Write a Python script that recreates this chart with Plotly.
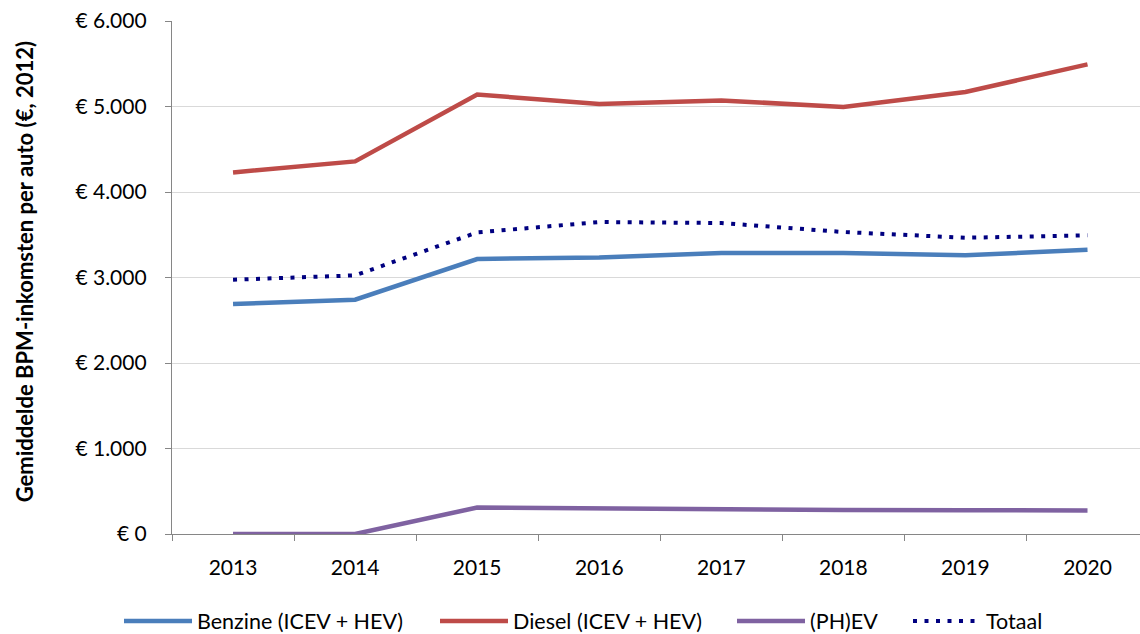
import plotly.graph_objects as go

# Average BPM revenue per car (€, 2012 prices) by fuel type
years = ["2013", "2014", "2015", "2016", "2017", "2018", "2019", "2020"]
benzine = [2690, 2740, 3216, 3235, 3286, 3286, 3259, 3325]
diesel = [4229, 4358, 5140, 5030, 5071, 4994, 5170, 5493]
phev = [0, 0, 310, 296, 285, 280, 278, 276]
totaal = [2974, 3025, 3527, 3649, 3637, 3532, 3465, 3493]

y_ticks = [0, 1000, 2000, 3000, 4000, 5000, 6000]
y_tick_labels = ["€ 0", "€ 1.000", "€ 2.000", "€ 3.000", "€ 4.000", "€ 5.000", "€ 6.000"]

FONT = "Lato, Carlito, 'Open Sans', sans-serif"
W, H = 1140, 634

series = [
    ("Benzine (ICEV + HEV)", benzine, dict(color="#4A7EBB", width=4.5), "legend", 119),
    ("Diesel (ICEV + HEV)", diesel, dict(color="#BE4B48", width=4.5), "legend2", 435),
    ("(PH)EV", phev, dict(color="#7F62A1", width=4.5), "legend3", 732),
    ("Totaal", totaal, dict(color="#000080", width=4, dash="4px,7.5px"), "legend4", 908),
]

fig = go.Figure()
legend_layout = {}
for name, values, line, legend_id, left_px in series:
    fig.add_trace(go.Scatter(x=years, y=values, name=name, mode="lines",
                             line=line, legend=legend_id))
    legend_layout[legend_id] = dict(
        orientation="h", xref="container", yref="container",
        x=left_px / W, xanchor="left", y=1 - 621 / H, yanchor="middle",
        itemwidth=68, font=dict(size=21.5, family=FONT, color="black"),
        bgcolor="rgba(0,0,0,0)",
    )

fig.update_layout(
    width=W, height=H,
    margin=dict(l=172, r=0, t=21, b=100),
    paper_bgcolor="white", plot_bgcolor="white",
    font=dict(family=FONT, size=21, color="black"),
    showlegend=True,
    annotations=[dict(text="<b>Gemiddelde BPM-inkomsten per auto (€, 2012)</b>",
                      xref="paper", yref="paper", x=(24 - 172) / 968, y=0.51,
                      textangle=-90, showarrow=False, xanchor="center", yanchor="middle",
                      font=dict(size=22, color="black"))],
    **legend_layout,
)

fig.update_xaxes(
    type="category", range=[-0.5, 7.43],
    showline=True, linecolor="#868686", linewidth=1.3,
    ticks="outside", tickson="boundaries", ticklen=6, tickcolor="#868686",
    showgrid=False, tickfont=dict(size=21), ticklabelstandoff=15,
)
fig.update_yaxes(
    range=[0, 6000], tickvals=y_ticks, ticktext=y_tick_labels,
    showline=True, linecolor="#868686", linewidth=1.3,
    ticks="outside", ticklen=6, tickcolor="#868686",
    showgrid=True, gridcolor="#D9D9D9", gridwidth=1.3,
    zeroline=False, tickfont=dict(size=21), ticklabelstandoff=14,
)

fig.write_html("out.html")
